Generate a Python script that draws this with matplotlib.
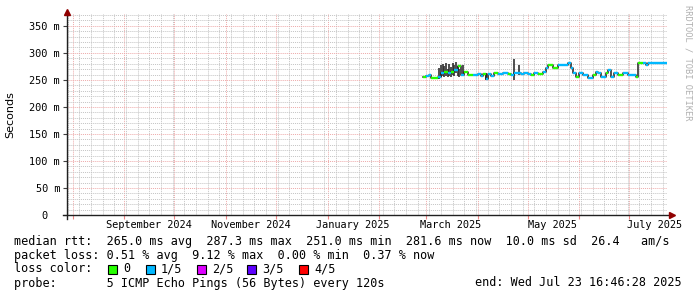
import numpy as np
import pandas as pd
import matplotlib
matplotlib.use("Agg")
import matplotlib.pyplot as plt
import matplotlib.dates as mdates
from matplotlib.patches import Rectangle
from matplotlib.lines import Line2D

# =========================
# DATA
# =========================

start = pd.Timestamp("2024-07-28 16:46:28")
end = pd.Timestamp("2025-07-23 16:46:28")

dates = ["2025-02-27", "2025-03-01", "2025-03-03", "2025-03-04", "2025-03-06",
         "2025-03-08", "2025-03-10", "2025-03-12", "2025-03-14", "2025-03-16",
         "2025-03-18", "2025-03-20", "2025-03-22", "2025-03-24", "2025-03-26",
         "2025-03-29", "2025-04-01", "2025-04-03", "2025-04-04", "2025-04-06",
         "2025-04-07", "2025-04-09", "2025-04-11", "2025-04-13", "2025-04-16",
         "2025-04-19", "2025-04-21", "2025-04-23", "2025-04-25", "2025-04-27",
         "2025-04-29", "2025-05-01", "2025-05-03", "2025-05-05", "2025-05-07",
         "2025-05-10", "2025-05-12", "2025-05-13", "2025-05-16", "2025-05-19",
         "2025-05-22", "2025-05-25", "2025-05-27", "2025-05-28", "2025-05-30",
         "2025-06-01", "2025-06-03", "2025-06-06", "2025-06-09", "2025-06-11",
         "2025-06-12", "2025-06-14", "2025-06-17", "2025-06-18", "2025-06-20",
         "2025-06-22", "2025-06-24", "2025-06-27", "2025-06-30", "2025-07-03",
         "2025-07-05", "2025-07-06", "2025-07-09", "2025-07-11", "2025-07-12",
         "2025-07-15", "2025-07-18", "2025-07-21"]

median_ms = [256, 258, 259, 253, 253,
             256, 262, 265, 262, 265,
             268, 275, 259, 265, 259,
             259, 261, 258, 261, 252,
             261, 257, 262, 261, 262,
             261, 259, 262, 262, 261,
             262, 261, 259, 262, 261,
             264, 272, 278, 272, 278,
             278, 281, 272, 263, 256,
             263, 259, 253, 259, 265,
             263, 256, 263, 268, 256,
             262, 259, 262, 260, 259,
             256, 281, 282, 278, 282,
             282, 282, 281.6]

# loss per point: 0 -> "0", 1 -> "1/5"
loss = [0, 1, 1, 0, 0,
        1, 1, 0, 1, 0,
        1, 0, 1, 0, 0,
        1, 1, 1, 0, 1,
        1, 1, 0, 1, 1,
        0, 1, 1, 1, 1,
        1, 1, 0, 1, 0,
        1, 1, 0, 0, 1,
        1, 1, 1, 1, 0,
        1, 1, 1, 0, 1,
        1, 1, 0, 1, 1,
        1, 0, 1, 1, 1,
        0, 0, 1, 1, 1,
        1, 1, 1]

# smoke (ping spread) where it is visible
smoke_dates = ["2025-03-09", "2025-03-10", "2025-03-11", "2025-03-12", "2025-03-13",
               "2025-03-14", "2025-03-15", "2025-03-16", "2025-03-17", "2025-03-18",
               "2025-03-19", "2025-03-20", "2025-03-21", "2025-03-23", "2025-04-06",
               "2025-04-23", "2025-04-26"]
smoke_lo = [252, 255, 258, 255, 258, 256, 258, 255, 260, 258, 262, 258, 256, 258, 250, 250, 260]
smoke_hi = [272, 278, 280, 276, 281, 270, 279, 274, 282, 277, 284, 276, 270, 278, 262, 288, 278]

loss_labels = ["0", "1/5", "2/5", "3/5", "4/5"]
loss_colors = ["#26ff00", "#00b8ff", "#dd00ff", "#5e00ff", "#ff0000"]

yticks = [0, 50, 100, 150, 200, 250, 300, 350]
ytick_labels = ["0  ", "50 m", "100 m", "150 m", "200 m", "250 m", "300 m", "350 m"]

month_labels = ["September 2024", "November 2024", "January 2025",
                "March 2025", "May 2025", "July 2025"]
month_label_dates = ["2024-09-01", "2024-11-01", "2025-01-01",
                     "2025-03-01", "2025-05-01", "2025-07-01"]

legend_lines = [
    "median rtt:  265.0 ms avg  287.3 ms max  251.0 ms min  281.6 ms now  10.0 ms sd  26.4   am/s",
    "packet loss: 0.51 % avg  9.12 % max  0.00 % min  0.37 % now",
]
probe_text = "probe:       5 ICMP Echo Pings (56 Bytes) every 120s"
end_text = "end: Wed Jul 23 16:46:28 2025"

# =========================
# FIGURE
# =========================

W, H = 697, 297
fig = plt.figure(figsize=(W / 100, H / 100), dpi=100)
fig.patch.set_facecolor("white")

def fx(x):
    return x / W

def fy(y):
    return 1 - y / H

left, right, top, bottom = 67, 667, 14, 215
ax = fig.add_axes([fx(left), fy(bottom), (right - left) / W, (bottom - top) / H])
ax.set_facecolor("white")

ax.set_xlim(start, end)
ax.set_ylim(0, 372)

# grid
ax.xaxis.set_major_locator(mdates.MonthLocator())
ax.xaxis.set_minor_locator(mdates.WeekdayLocator(byweekday=mdates.MO))
ax.set_yticks(yticks)
ax.set_yticks(np.arange(0, 372, 10), minor=True)
ax.grid(which="minor", color="#c4c4c4", linestyle=(0, (1, 1)), linewidth=0.7)
ax.grid(which="major", color="#eeaaaa", linestyle=(0, (1, 1)), linewidth=0.7)
ax.set_axisbelow(True)

ax.set_xticklabels([])
ax.set_yticklabels(ytick_labels, family="DejaVu Sans Mono", fontsize=7.4)
ax.tick_params(axis="y", which="major", length=3, width=0.8, color="#404040", pad=2)
ax.tick_params(axis="x", which="major", length=3, width=0.8, color="#ee8888",
               direction="out")
ax.tick_params(which="minor", length=0)
for s in ax.spines.values():
    s.set_visible(False)

# axes with arrows
ax.add_line(Line2D([-0.007, 1.003], [0, 0], transform=ax.transAxes, color="#202020",
                   lw=1.0, clip_on=False))
ax.add_line(Line2D([0, 0], [-0.02, 1.0], transform=ax.transAxes, color="#202020",
                   lw=1.0, clip_on=False))
ax.plot([1.008], [0], marker=">", color="#900000", markersize=4.5,
        transform=ax.transAxes, clip_on=False)
ax.plot([0], [1.012], marker="^", color="#900000", markersize=4.5,
        transform=ax.transAxes, clip_on=False)

# month labels
for lab, d in zip(month_labels, month_label_dates):
    t = pd.Timestamp(d) + pd.Timedelta(days=15)
    ax.text(t, -0.05, lab, transform=ax.get_xaxis_transform(), ha="center", va="center",
            family="DejaVu Sans Mono", fontsize=7.4, color="#000000")

ax.set_ylabel("Seconds", family="DejaVu Sans", fontsize=8, labelpad=10)

# =========================
# DATA DRAWING
# =========================

d = pd.to_datetime(dates)
d_next = list(d[1:]) + [end]
med = np.array(median_ms)

# smoke
ax.vlines(pd.to_datetime(smoke_dates), smoke_lo, smoke_hi, color="#303030", lw=1.2, zorder=3)

# vertical connections of the step line
ax.step(list(d) + [end], list(med) + [med[-1]], where="post", color="#202020", lw=1.1,
        zorder=4)

# coloured median segments
seg_colors = [loss_colors[k] for k in loss]
ax.hlines(med, d, d_next, colors=seg_colors, lw=1.7, zorder=5)

# =========================
# LEGEND TEXT
# =========================

mono = dict(family="DejaVu Sans Mono", fontsize=8.5, color="#000000", va="center")
fig.text(fx(14), fy(241), legend_lines[0], **mono)
fig.text(fx(14), fy(255), legend_lines[1], **mono)
fig.text(fx(14), fy(269), "loss color:", **mono)
fig.text(fx(14), fy(283), probe_text, **mono)
fig.text(fx(475), fy(283), end_text, **mono)

box_x = [108, 146, 197, 247, 299]
for bx, lab, col in zip(box_x, loss_labels, loss_colors):
    fig.add_artist(Rectangle((fx(bx), fy(273.5)), 9 / W, 9 / H, transform=fig.transFigure,
                             facecolor=col, edgecolor="#000000", lw=0.8))
    fig.text(fx(bx + 15), fy(269), lab, **mono)

fig.text(fx(688), fy(5), "RRDTOOL / TOBI OETIKER", rotation=270, ha="center", va="top",
         family="DejaVu Sans Mono", fontsize=6.3, color="#b0b0b0")

fig.savefig("out.png", dpi=100, facecolor="white")
